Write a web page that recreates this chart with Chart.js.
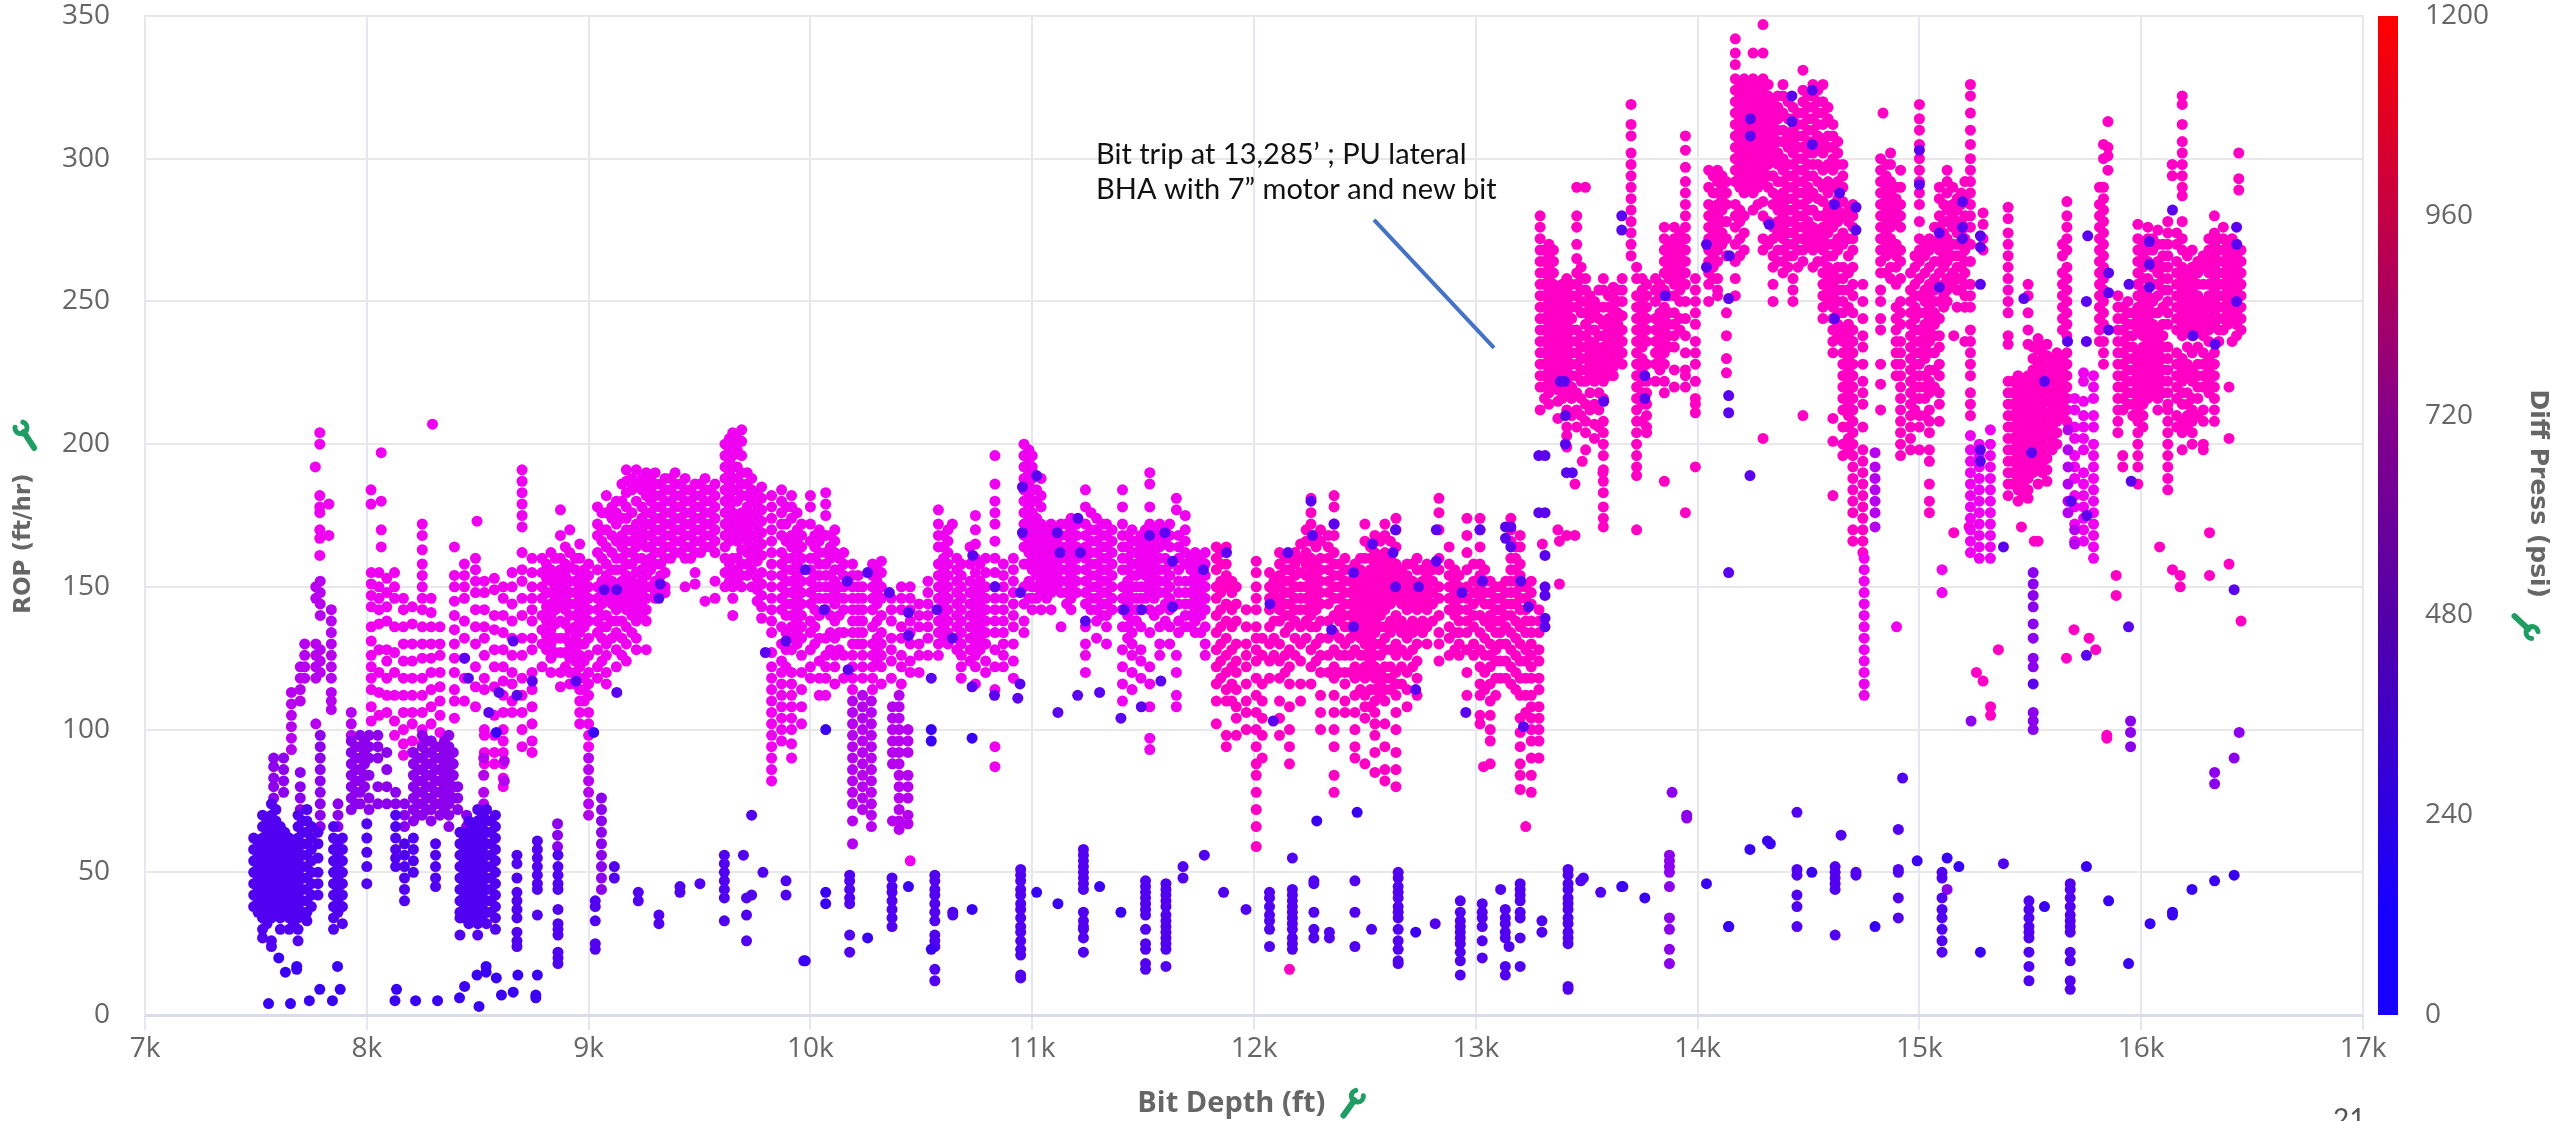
<!DOCTYPE html>
<html>
<head>
<meta charset="utf-8">
<title>ROP vs Bit Depth</title>
<script src="https://cdn.jsdelivr.net/npm/chart.js@4/dist/chart.umd.min.js"></script>
<style>
  html, body { margin: 0; padding: 0; background: #fff; overflow: hidden; }
  #chart-wrap { position: relative; width: 2552px; height: 1121px; }
</style>
</head>
<body>
<div id="chart-wrap"><canvas id="rop-chart"></canvas></div>
<script>
// Axis ticks
const depthTicks = [7000, 8000, 9000, 10000, 11000, 12000, 13000, 14000, 15000, 16000, 17000];
const ropTicks = [0, 50, 100, 150, 200, 250, 300, 350];
const diffTicks = [0, 240, 480, 720, 960, 1200];

// Colour bar stops: psi and colour
const barPsi = [0, 130, 240, 480, 720, 960, 1200];
const barColors = ['#1800ff', '#1800ff', '#2c00e4', '#5400a8', '#86008a', '#c40044', '#ff0000'];

// Each row is one vertical strand of readings: [bit depth, rop, rop, ...]
const bluePoints = [
  [7557,4],[7656,4],[7741,5],[7788,9],[7845,5],[7880,9],[7603,20],[7633,15],[7684,17,16],[7868,17],[8134,9],[8127,5],
  [8220,5],[8319,5],[8418,6],[8441,10,125],[8497,14],[8506,3],[8538,17,15],[8584,13,99],[8607,7],[8660,8,131],[8681,14],[8762,7,6],[8769,14],
  [8458,118],[8550,106],[8596,113],[8677,112],[8746,117],[8943,117],[9023,99],[9127,113,149],[9070,149],[9317,146],[9323,151],[9797,127],[9890,131],
  [9977,19,156],[10062,142],[10166,152],[10258,155,27],[10356,148],[10442,141,133,45],[10570,142],[10732,161],[10832,150],[10947,148],[11020,189,43],
  [10956,185,169],[11206,174],[11113,169],[11217,162],[11125,162],[11529,168],[11598,169],[11633,159,143],[11772,156],[11876,162],[12072,144],[12153,162],
  [12257,180],[12264,168],[12361,172],[12449,155,136],[12534,165],[12638,150,170],[12627,162],[12742,150],[12822,170,159],[12938,148],[13019,170],
  [13158,171,164],[13030,152],[13203,152],[13312,161,150,147,139,176,196,136],[13238,143],[12350,135],[11240,138],[11494,142],[11414,142],[13435,190],[13400,222],
  [10640,132],[10545,118,100,96,23],[10729,115,97,37],[10830,112],[10945,116],[10935,111],[10069,100,43,39],[10170,121],[11116,106,39],[11205,112],[11304,113,45],
  [11400,104,36],[11492,108],[11580,117],[12087,103],[12283,68],[12465,71],[12955,106],[13215,101],[12729,114,29],
  [13134,171,167],[13658,280,275,45],[13381,222],[13404,210,200],[13409,190],[13284,196,176],[13577,215],[13762,224,216,41],[13854,252],[14040,270,262,46],
  [14143,266],[14140,251,217,211,155,31],[14238,314,308],[14236,189,58],[14425,322,313],[14517,324,305],[14323,277],[14617,284,244],[14640,288],[14714,283,275],
  [15000,303,291],[15090,255,274],[15194,285,276,272],[15275,273,269,256,198,194,22],[15471,251],[15564,222,38],[15506,197],[15379,164],[15668,236],[15753,236,250,126,52],
  [15853,260,253,240,40],[15945,256],[15955,187],[16037,271,263,255],[16141,282],[16234,238],[16333,235],[16430,270,250,276],[15759,273],[15684,180],[15755,175],
  [15513,116],[15943,136,18],[16419,149,49],[16040,32],[16141,35,36],[16229,44],[16331,47],[14140,31],[14328,60],[14315,61],[14515,50],[14800,31],[14990,54],[15125,55],[15178,52]
];
const indigoPoints = [
  [7490,62,58,54,50,46,42,38],[7530,70,66,62,58,54,50,46,42,38,34,30,27],[7570,74,70,66,62,58,54,50,46,42,38,34,26,24],[7610,66,62,58,54,50,46,42,38,34,30],
  [7650,62,58,54,50,46,42,38,34,30],[7690,70,66,62,58,54,50,46,42,38,34,30,26],[7730,72,68,64,60,56,52,48,44,40,36,33],[7780,64,60,55,50,46,42],
  [7850,66,62,58,54,50,46,42,38,34,30],[7890,62,58,54,50,46,42,38,32],[8000,67,62,57,52,46],[8130,70,66,62,58,55,52],[8170,60,56,52,48,44,40],[8210,62,58,54,50],[8310,60,56,52,48,45],
  [8420,64,60,56,52,48,44,40,36,34,28],[8460,68,64,60,56,52,48,44,40,36,32],[8500,72,68,64,60,56,52,48,44,40,36,32,28],[8540,72,68,64,60,56,52,48,44,40,36,32],[8580,70,66,62,58,54,50,46,42,38,34,30],
  [8677,56,53,48,43,40,37,34,29,26,24],[8769,61,58,55,52,49,46,44,35],[8862,56,52,49,46,44,37,32,30,28,22,20,18],[9030,40,38,33,25,23],[9116,52,48],[9224,43,40],[9317,35,32],[9412,45,43],[9502,46],
  [9612,56,53,50,47,44,41,33],[9698,56],[9712,41,35,26],[9735,42,70],[9786,50],[9890,47,42],[9970,19],
  [10177,49,47,44,41,39,28,22],[10368,48,45,43,40,37,34,31],[10561,49,47,44,42,39,36,33,28,26,24,16,12],[10642,36,35],[10948,51,49,47,44,42,39,37,34,31,29,26,23,21,14,13],
  [11231,58,56,54,52,50,48,46,44,36,33,31,30,27,22],[11511,47,45,43,41,39,37,35,30,25,23,18,16],[11603,46,44,42,40,38,35,33,31,29,27,25,23,17],[11680,52,48],[11776,56],[11863,43],[11964,37],
  [12070,43,41,38,35,33,30,24],[12173,55,44,42,40,38,36,34,32,30,27,25,23],[12270,47,46,36,30,27],[12340,29,27],[12455,47,36,24],[12530,30],[12650,50,48,45,43,41,38,36,34,30,26,23,19,18],[12817,32],
  [12930,40,36,33,31,29,27,25,22,19,14],[13029,39,36,34,31,26,20],[13133,37,34,32,29,27,17,14],[13112,44],[13200,46,44,42,40,36,34,27,17],[13150,24],[13298,33,29],
  [13416,51,49,46,44,41,39,37,34,32,29,27,25,10,9],[13485,48],[13473,47],[13563,43],[13663,45],[14448,51,49,42,38,31,71],[14620,52,50,48,46,44,28],[14647,63],[14714,50,49],
  [14905,65,51,50,41,34],[14924,83],[15102,50,48,41,37,34,30,26,22],[15379,53],[15494,40,37,34,31,29,27,22,17,12],[15680,46,44,41,38,35,33,31,29,22,19,12,9],
  [7510,60,56,52,48,44,40,36],[7550,68,64,60,56,52,48,44,40,36,32],[7590,72,68,64,60,56,52,48,44,40,36],[7630,64,60,56,52,48,44,40,36],[7670,60,56,52,48,44,40,36,32],[7710,68,64,60,56,52,48,44,40,36],[7750,66,62,58,54,50,46,42,38],[7870,60,56,52,48,44,40,36],
  [8440,62,58,54,50,46,42,38,34],[8480,66,62,58,54,50,46,42,38,34],[8520,70,66,62,58,54,50,46,42,38,34],[8560,68,64,60,56,52,48,44,40,36]
];
const purplePoints = [
  [7580,90,87,83,80,76],[7625,90,86,82,78],[7700,85,80,76,72],[7790,98,94,90,86,82,78,74,70,66],[7870,74,70,66],[7930,96,92,88,84,80,76,72],[7970,98,94,90,86,82,78,74],
  [8010,98,94,90,84,76,72],[8050,98,94,90,80,74],[8090,92,86,80,74],[8130,78,74],[8170,74,70,66],[8210,92,88,84,80,76,72,68],[8250,98,94,90,86,82,78,74,70],[8290,96,92,88,84,80,76,72,68],
  [8330,94,90,86,82,78,74,70],[8370,98,94,90,86,82,78,74,70,66],[8410,80,76,72],[8450,70,66],[9058,76,72,68,64,60,56,52,48,44],[8860,67,63,59],[13873,56,54,52,50,45,34,30,23,18],[13885,78],[13951,70,69],
  [15125,44],[15233,103],[15952,103,99,94],[16442,99],[16419,90],[16331,85,81],[15513,155,151,147,143,137,132,125,122,106,103,100],
  [7950,94,90,86,82,78,74],[7990,96,92,88,84,80],[8230,90,86,82,78,74,70],[8270,96,92,88,84,80,76,72],[8310,94,90,86,82,78,74],[8350,96,92,88,84,80,76,72],[8390,92,88,84,80,76]
];
const violetPoints = [
  [7660,113,109,105,101,97,93],[7700,122,118,114,110],[7720,130,126,122,118],[7770,150,146,130,126,122,118,102],[7790,152,148,144,140,128,124,120],[7840,142,138,134,130,126,122,118,113,110,107],[7930,106,102,98],
  [10190,110,106,102,98,94,90,86,82,78,74,68,60],[10235,112,108,104,100,96,92,88,84,80,76,72],[10275,110,106,102,98,94,90,86,82,78,74,70,66],[10370,108,104,100,96,92,88,68],[10400,112,108,104,100,96,92,88,84,80,76,72,68,65],[10440,100,96,92,84,80,76,70,67],
  [9000,90,86,82,78,74,70],[8527,90,84,78,74,70],[8620,89,82],[14800,197,192,188,184,180,176,171],[15670,205,198,192,186,180,176],[15700,170,165]
];
const magentaPoints = [
  [7788,204,200,182,178,176,170,167,161],[7768,192],[7829,179,168],[8019,184,179],[8065,197,180,170,164],[8296,207],[8497,173],[8395,164],
  [8020,155,151,147,143,136,131,126,122,118,114,108,103],[8055,155,150,146,142,137,128,120,113,105],[8090,153,148,143,138,128,124,118,112,106],[8125,155,150,146,136,127,120,112,103,98],
  [8165,146,142,136,130,124,118,112,106,100,95,91],[8205,143,137,130,124,118,112,106,102,96,92],[8250,172,168,163,158,154,150,146,142,136,130,125,118,112,106,100,95],[8290,146,141,136,130,125,120,114,108,102,96,92],
  [8330,136,130,126,120,115,110,105,99],[8395,154,150,145,140,135,130,125,120,114,110,104],[8440,158,154,150,146,138,132,125,118,110],[8490,160,156,152,148,142,136,130,122,115,108],
  [8530,152,148,142,136,132,126,118,114,100,98,92,88],[8575,153,149,140,135,128,122,115,105,98,92,88],[8615,150,146,140,134,128,122,117,112,106,100,96,92,88,83,80],[8655,155,150,144,138,132,126,120,116,110,106],
  [8700,191,187,183,179,175,171,162,156,152,146,140,132,126,118,112,106,100,94],[8745,160,155,150,146,142,138,132,128,120,114,108,102,96,92],[8790,160,155,150,146,140,135,130,122],[8830,162,156,152,148,144,140,135,130,125,120],
  [8873,177,168,160,156,152,148,144,138,132,127,120,115],[8915,170,162,157,152,148,144,140,135,130,125,120,116],[8960,165,160,155,150,146,142,138,134,130,126,122,118,114,110,106,102],[9000,158,154,150,146,142,138,132,126,120,116,112,106,102,98,94],
  [9040,178,172,168,162,156,150,146,142,138,134,128,122,118],[9080,182,176,170,164,158,154,150,146,140,136,130,126,120,116],[9125,180,176,172,166,160,156,150,146,142,138,134,128,122],[9170,191,187,183,178,174,170,166,162,158,154,150,146,142,136,130,124],
  [9215,191,186,180,172,168,164,160,155,150,146,142,138,132,128],[9260,190,186,182,176,172,168,164,158,154,150,146,142,138,128],[9300,190,186,182,178,174,170,166,162,158,152,148,146],[9345,188,184,180,176,172,168,164,160,155,150,148],
  [9390,190,186,182,178,174,170,166,162],[9435,188,184,180,176,172,168,164,160,150],[9480,186,182,178,174,170,166,162,155,151],[9525,188,184,180,176,172,168,164,145],[9570,186,182,178,174,170,166,162,152,146],
  [9615,200,196,192,188,184,180,176,172,168,164,160,155,150],[9650,204,200,196,192,188,184,180,176,172,168,160,155,150,146,140],[9690,205,201,196,190,186,182,176,172,168,163,158,154,150],[9735,188,184,180,176,172,168,164,160,156,150],
  [9780,185,181,177,173,169,165,161,155,151,147,143,139],[9825,182,178,174,170,166,162,158,154,150,146,142,138,134,127,122,118,114,110,106,102,98,94,90,86,82],[9870,184,180,176,172,168,162,158,154,150,146,142,136,130,124,120,116,112,108,104,100,96],
  [9915,182,178,174,168,164,160,156,152,148,144,140,136,132,128,120,116,112,108,104,100,95,90],[9960,172,168,164,160,156,152,148,144,140,136,132,126,120,114,108,102],[10000,182,178,172,166,160,156,152,148,144,138,134,128,122,118],
  [10040,170,166,162,158,154,150,146,140,132,124,118,112],[10069,183,179,175,168,162,158,154,150,146,142,132,126,122,118,112],[10110,170,166,162,156,152,148,144,138,132,126,122,116],[10150,162,158,154,150,146,142,134,126,118],
  [10190,158,154,150,146,142,138,134,130,126,122,118,114],[10235,150,146,142,138,134,130,126,122,118],[10280,158,154,150,146,142,136,130,126,122,118,114],[10320,159,155,150,146,140,134,130,126,122,116],[10365,146,142,138,132,128,124,118],
  [10410,150,146,142,136,132,126,122,116],[10450,150,146,142,138,134,130,124,120,54],[10490,144,140,136,130,126,120],[10530,152,148,144,140,136,132,126],[10577,177,172,168,164,158,154,150,146,142,138,134,130,126],
  [10620,170,166,162,158,154,150,146,142,138,134,130],[10640,172],[10680,158,154,150,146,142,138,134,130,126,122,118],[10744,175,170,165,160,155,150,146,142,138,134,130,126,122,116],[10790,160,155,150,146,142,138,134,130,124,120],
  [10832,196,186,180,176,172,166,160,155,150,146,142,138,134,128,122,114,94,87],[10870,158,154,150,146,142,138,134,130,126,122],[10915,160,156,152,148,144,140,136,130,124,118],[10963,200,196,192,188,184,180,176,172,168,164,158,150,144,138,134],
  [11000,196,192,188,184,180,176,172,168,164,160,156,150,146,142],[11040,188,182,178,172,168,164,160,156,152,148,142],[11085,172,168,164,160,156,152,148,142],[11130,172,168,164,160,156,152,148,136],[11175,174,170,166,162,158,154,150,146,142],
  [11240,184,178,172,168,164,160,156,152,148,144,136,130,126,120],[11290,174,170,166,162,158,154,150,146,142,138,132],[11335,172,168,164,160,156,152,148,144,140,136,130],[11407,184,178,172,168,164,160,156,150,146,142,136,128,122,116,110],
  [11450,170,166,162,158,154,150,146,142,138,134,130,126,120,114],[11490,168,164,160,156,150,146,142,136,128,124,118],[11530,190,186,178,172,168,164,160,156,152,148,142,134,122,116,108,97,93],[11575,172,168,164,160,156,152,148,142,136,130,126],
  [11620,172,168,164,158,154,150,146,142,136,130],[11650,181,177,126,120,112,108],[11690,175,170,166,162,158,152,148,144,140,136],[11735,162,158,154,150,146,142,138,134],[11780,162,158,154,150,146,142,136,130,126],
  [14751,160,156,152,148,144,140,136,132,128,124,120,116,112],[14897,136],[15230,203,198,194,190,186,182,178,174,170,166,162],[15270,200,196,192,188,184,180,176,172,168,164,160],[15320,205,200,196,192,188,184,180,176,172,168,164,160],
  [15700,216,212,206,202,196,192,188,182,178,172,166],[15740,225,222,215,210,206,202,198,190,186,182,178,174,170,166],[15785,224,220,216,210,206,200,196,192,188,184,180,176,172,168,164,160],[15102,156,148],
  [8810,158,153,148,143,138,133,128],[8850,160,154,150,146,142,137,132,127],[8895,164,158,154,150,146,142,137,132,127,122],[8940,160,156,152,148,144,140,136,132,128,124,120,116],[8980,156,152,148,144,140,136,130,124,118,114,110],
  [9060,176,170,166,160,152,148,144,140,136,132,124],[9105,178,174,168,162,156,152,148,144,138,132],[9150,186,180,174,168,164,160,156,152,148,144,138,132,126],[9195,188,184,176,170,166,162,158,152,148,144,140,134],[9240,188,184,178,174,170,166,160,156,152,148,144,140],
  [9280,188,184,180,176,172,168,164,160,156,150],[9325,186,182,178,174,170,166,162,158,154,150],[9370,188,184,180,176,172,168,164,160],[9415,186,182,178,174,170,166,162],[9460,184,180,176,172,168,164,160],[9505,186,182,178,174,170,166,162],[9550,184,180,176,172,168,164],
  [9635,202,198,194,190,186,182,178,174,170,166,158,152],[9670,202,198,192,188,184,180,174,170,166,160,156,152],[9715,190,186,182,178,174,170,166,162,158,154],[9760,183,179,175,171,167,163,159,153,149,145],[9890,178,172,166,160,156,152,148,144,140,134,128,122],[9940,176,170,166,162,158,154,150,146,142,138,134,130],
  [10020,168,164,160,154,150,146,142,136,130],[10090,168,164,160,154,150,146,140,134,128],[10130,160,156,150,146,140,134,128],[10215,154,150,146,142,138,134,130],[10300,156,152,148,144,138,132,128,124],[10600,168,164,160,156,152,148,144,140,136,132],[10660,160,156,152,148,144,140,136,132,128],
  [10720,164,158,152,148,144,140,136,132,128,124],[10765,158,152,148,144,140,136,132,128],[10985,198,194,190,186,182,178,174,170,166,162,158,152,146],[11020,184,180,174,170,166,162,158,154,150,146],[11065,170,166,162,158,154,150,146],[11110,170,166,162,158,154,150],[11155,172,168,164,160,156,152,148,144],
  [11200,172,168,164,160,156,152,148],[11265,176,170,166,162,158,154,150,146,142],[11315,172,168,164,160,156,152,148,144,140],[11360,170,166,162,158,154,150,146,142],[11430,168,164,160,156,152,148,144,140,136,132],[11470,166,162,158,154,150,146,142,138],[11510,170,166,162,158,154,150,146],
  [11550,170,166,162,158,154,150,146,140],[11600,170,166,160,156,152,148,144,138],[11660,168,164,160,156,152,148,144,138,134],[11715,160,156,152,148,144,140,136],[11760,160,156,152,148,144,140,134]
];
const hotPinkPoints = [
  [11830,164,160,156,150,146,140,134,128,122,116,110,102],[11875,164,158,154,150,144,138,132,126,120,114,110,98,94],[11920,150,144,138,130,124,120,114,108,104,98],[11965,142,136,130,126,122,116,110,106,100],
  [12010,159,155,150,146,142,136,132,128,124,118,112,106,100,94,88,84,78,72,66,59],[12037,132,126,116,110,104,98,90],[12070,155,150,146,142,136,130,124,118],[12115,162,158,154,150,146,142,138,130,124,118,110,104,98],
  [12160,160,156,152,148,144,140,136,128,122,116,108,100,94,88,16],[12210,165,160,155,150,146,142,136,130,124,116,110],[12257,181,176,172,166,160,156,152,148,144,140,136,128,122,116],[12300,170,166,160,156,152,148,144,138,132,126,120,112,106,100],
  [12361,182,178,172,168,162,158,154,150,146,140,134,128,122,118,112,106,100,94,84,78],[12410,160,156,152,148,144,140,136,130,126,120,116,110,106],[12455,158,154,150,146,142,138,134,128,122,118,112,106,100,94,90],
  [12500,172,166,160,154,150,146,142,138,134,130,126,122,118,112,108,104,88],[12545,168,162,158,154,150,146,142,138,134,130,126,122,118,114,110,106,102,98,92,85],[12590,172,168,162,158,154,150,146,142,136,132,128,122,118,114,110,102,94,86,82],
  [12640,174,170,164,158,154,150,146,140,136,130,126,120,116,112,106,100,92,86,80],[12690,158,154,150,146,142,136,132,126,120,114,108],[12735,160,156,150,146,142,136,130,124,118,112],[12780,158,154,150,146,142,136,130],
  [12834,181,176,170,160,156,150,146,140,134,130,124],[12880,164,158,154,150,146,142,136,132,126],[12925,154,150,146,142,138,134,130,126],[12960,174,168,162,156,150,146,142,138,134,128,120,112],
  [13019,174,170,164,158,154,150,146,140,134,128,122,116,112,105,102],[13065,152,148,144,140,136,130,126,122,116,110,105,100,96,88],[13110,150,146,142,138,134,130,124,118],[13158,174,170,166,160,156,152,148,144,140,134,128,122,116],
  [13200,168,164,158,154,150,146,142,136,130,124,118,112,104,99,94,88,84,79],[13250,152,148,144,138,134,130,126,122,118,112,108,104,100,96,90,84,78],[13285,142,138,134,128,124,118,114,108,104,100,96,90],[13225,66],[13035,87],
  [13300,165],[13377,166,151],[13447,168,186],[13480,194],[13573,190],[13494,290],
  [13290,280,276,272,268,264,260,256,252,248,244,240,236,232,228,224,220,212],[13330,270,266,262,258,254,250,246,242,238,234,230,226,222,218,214],[13370,255,251,247,243,239,235,231,227,223,219,215,209,170],[13410,258,254,250,246,242,238,234,230,226,222,218,212,206,203,199,168],
  [13455,290,280,276,270,265,260,256,252,248,240,236,232,228,224,218,212,206],[13495,258,254,250,246,242,238,234,230,226,222,214,208,204,198],[13535,250,246,240,235,230,226,222,214,207,202],[13575,258,254,248,242,238,234,230,226,222,216,208,204,200,196,191,187,183,178,174,171],
  [13620,255,251,247,243,239,235,231,227,224],[13660,258,254,250,245,240,236,232,228],[13700,319,312,308,302,298,294,290,286,282,278,274,270,266],[13725,262,258,252,248,244,240,236,232,228,224,220,216,212,208,204,200,196,192,189,170],
  [13770,256,252,248,244,240,236,228,222,218,214,210,206,204],[13810,258,254,250,244,240,236,232,228,222],[13850,276,272,268,264,260,254,248,244,240,236,232,228,222,218,187],[13895,276,272,268,264,260,256,252,246,242,238,234,226,220],
  [13945,308,303,297,292,288,284,280,276,272,268,264,260,256,250,244,238,232,226,224,220,176],[13990,258,254,250,246,242,236,232,228,222,216,214,211,192],[14050,296,290,284,280,276,272,268,264,260,256,250],[14090,296,292,288,284,280,276,272,268,264,258,254,252],
  [14130,292,288,284,278,272,266,246,238,230,225],[14170,342,337,333,328,324,320,316,312,308,304,300,296,292,284,280,276,270,264,258,252],[14210,328,324,320,316,312,308,304,300,296,292,288,280,274,268],[14250,337,328,324,320,316,312,308,304,300,296,292,288,282],
  [14295,347,337,328,324,320,316,312,308,304,300,296,292,285,280,272,268,202],[14340,320,316,312,308,304,300,294,288,284,276,272,266,262,256,250],[14385,326,322,316,310,306,300,296,292,288,284,280,276,272,268,264,260],[14430,318,314,310,306,302,298,294,290,286,282,278,274,270,266,258,254,250],
  [14475,331,324,320,316,312,308,304,300,296,292,288,284,280,276,272,268,264,210],[14520,326,322,318,314,310,306,302,298,294,288,282,276,272,268,262],[14565,326,320,316,312,306,302,296,290,285,280,276,272,268,264,260,256,252,248,244],
  [14610,312,308,304,300,296,290,284,280,276,270,266,260,256,252,248,244,240,236,232,209,201,182],[14655,298,294,290,285,280,274,270,262,258,254,250,246,240,236,232,228,224,220,216,212,206,200,196],[14700,284,280,276,272,268,262,256,252,246,240,236,232,228,224,220,216,212,208,204,200,196,192,188,184,180,176,170,166],
  [14745,256,250,244,238,234,228,222,218,214,206,198,194,190,186,182,178,174,170,166,162],[14825,300,296,292,288,284,280,276,272,268,264,260,254,250,244,240,228,221,212],[14836,316],[14870,302,298,292,288,284,280,276,272,268,262,258],
  [14915,296,290,284,280,276,268,264,258,250,246,242,236,232,228,224,220,216,212,208,204,200,196],[14960,260,254,250,246,242,238,234,230,226,222,218,214,210,206,202,198],[15000,319,314,310,305,300,296,292,288,284,278,272,268,264,258,252,246,240,236,232,228,224,220,216,210,206,198],
  [15045,272,268,262,256,252,248,244,240,236,232,226,222,218,212,208,204,198,194,186,180,176],[15090,290,286,280,276,272,268,264,260,250,244,238,234,228,224,218,214,208],[15125,296,292,288,282,278,272,268,264,258,254,250],[15155,169,238],[15170,286,282,278,274,270,266,262,258,254,248],
  [15205,292,286,280,276,272,268,264,260,256,252,248,236],[15230,326,322,316,310,305,300,296,292,288,284,280,276,270,264,256,252,248,240,236,232,228,224,218,214,210],[15400,283,279,274,270,266,262,258,254,250,246,238,235,222,218,214,210,206,202,198,194,190,186,182],
  [15445,224,220,216,212,208,204,200,196,192,188,184,180],[15490,256,252,246,240,235,224,220,216,212,208,204,200,196,192,188,184,181],[15535,237,233,228,224,220,216,212,208,204,200,196,192,186,166],[15575,235,231,227,223,219,215,211,207,203,199,195,191,187],
  [15620,232,228,224,220,216,212,208,204,200],[15665,285,280,276,272,268,262,258,254,250,246,242,238,232,228,224,220,216,212,208],[15830,305,300,290,286,282,278,274,270,266,262,258,254,250,246,242,236,232,228],[15850,313,304,301,296],
  [15895,252,248,244,240,236,232,228,224,220,216,212,208,204],[15917,196,192],[15940,250,246,242,238,234,230,226,222,218,214],[15985,277,272,268,264,260,256,252,248,244,240,232,228,224,220,216,212,208,204,200,196,192,186],
  [16030,276,272,268,264,258,252,248,244,240,236,232,228,224,220,216],[16083,164],[16075,275,270,264,260,256,252,246,240,236,232,228,224,220,216,212],[16120,278,274,270,266,262,258,254,250,246,242,234,230,226,222,218,214,212,208,204,200,196,192,188,184],[16140,298,294],
  [16185,322,319,312,306,302,298,294,290,287,278,272,268,262,258,254,250,246,242,238,230,226,222,218,214,208,204,198],[16230,268,262,258,254,250,246,242,238,232,226,222,216,212,208,204,200],[16280,266,262,256,250,246,242,238,232,228,224,220,212,208,200,198],
  [16308,169,154],[16330,280,274,270,266,262,258,254,250,246,242,232,228,224,220,216,212,208],[16370,276,272,268,264,260,256,252,248,244,240],[16396,220,202,158],[16410,272,268,264,260,256,252,248,244,236],[16450,268,264,260,256,252,248,244,240,138],
  [16440,302,293,289],[15356,128],[15257,120],[15287,117,281,277,272,268],[15321,108,105],[15663,125],[15795,128],[15697,135],[15765,132],[15887,154,147],[16141,156],[16176,154,150],[15845,97,98],[15224,171],[15460,171],[15518,166],
  [11850,162,158,152,148,142,136,130,124,118],[11900,152,148,142,136,128,122,116,110],[12090,152,148,144,138,132,126],[12140,160,156,152,148,144,140,134,126,120],[12185,162,158,154,150,146,142,138,132,126],[12235,170,166,162,158,154,150,146,142,138,132],[12280,168,164,158,154,150,146,142,136,130,124],
  [12335,168,164,160,156,152,148,144,138,132,126,120],[12385,158,154,150,146,142,138,132,126,120],[12435,156,152,148,144,140,136,132,126,120],[12480,160,156,152,148,144,140,136,132,126,120,114],[12525,164,160,156,152,148,144,140,136,132,128,124,120,114,108],[12570,166,160,156,152,148,144,140,136,130,126,120,116,112],
  [12615,166,160,156,152,148,144,138,134,128,122,118,114],[12665,156,152,148,144,138,134,128,122,116],[12715,158,152,148,144,138,134,128,122],[12760,156,152,148,144,138,134],[12805,156,152,148,144,138],[12905,156,152,148,144,140,134,128],[12990,158,152,148,144,140,136,130,126],[13040,156,152,148,144,138,132,126,120,114],
  [13090,150,146,142,138,134,128,124,118,112],[13135,152,148,144,140,136,130,124,118],[13180,164,160,156,152,148,144,138,132,126,120,114],[13225,150,146,142,138,134,128,124,118,112,106],[13310,268,264,260,256,252,248,244,240,236,232,228,224,220,216],[13350,268,264,260,256,252,248,244,240,236,232,228,224,220],
  [13390,256,252,248,244,240,236,232,228,224,220,216],[13432,256,252,248,244,240,236,232,228,224,220,216,210],[13475,262,258,254,250,246,238,234,230,226,222,216,210],[13515,252,248,244,240,236,232,228,224,218,212],[13555,254,248,244,238,232,228,224,218,212,206],[13598,252,248,244,240,236,232,228,224],[13640,254,250,246,242,238,234,230],
  [13750,258,254,250,246,242,238,234,230,226,222,218,214,208],[13830,256,252,246,242,238,234,230,226],[13870,270,266,262,258,252,246,242,238,234],[13920,274,270,266,262,258,254,250,244,240],[14070,294,288,282,278,274,270,266,262,258],[14110,294,290,286,282,278,274,270],[14190,326,322,318,314,310,306,302,298,294,290,282,278,272,266],
  [14230,326,322,318,314,310,306,302,298,294,290],[14272,326,322,318,314,310,306,302,298,294,290,284],[14318,326,322,318,314,310,306,302,298,294,290,278,270],[14362,322,318,314,310,306,302,298,292,286,282,278,274,268,264],[14408,320,314,308,304,298,294,290,286,282,278,274,270,266,262],[14452,316,312,308,304,300,296,292,288,284,280,276,272,268,262],
  [14498,322,318,314,310,306,302,298,294,290,286,282,278,274,270],[14542,324,320,316,312,308,304,298,292,286,280,274,270,264],[14588,318,314,308,304,298,292,288,282,278,274,270,266,262,258,254,250],[14632,306,302,298,292,286,282,278,272,268,262,258,254,250,246,242,238],[14680,282,278,272,266,260,254,248,242,238,234,230,226,222,218,214,210,206,202,198],
  [14850,298,294,290,286,282,278,274,270,266,260],[14895,290,286,282,278,270,266,262,256,248,244,240,236,232,228,224],[14980,266,262,256,252,248,244,240,236,232,228,224,220,216,212],[15025,270,266,260,254,250,246,242,238,234,230,224,220,216,210],[15068,276,270,264,258,254,250,246,242,238,232,226,220],[15110,284,278,274,270,266,262,256,252,248],
  [15150,290,284,280,276,270,266,260,256],[15188,288,284,278,274,270,266,262,258,254],[15420,222,218,214,210,206,202,198,194,190,186],[15468,222,218,214,210,206,202,198,194,190,186,182],[15512,234,230,226,222,218,214,210,206,202,198,194,190],[15555,234,230,226,222,218,214,210,206,202,198,194,190],[15598,230,226,222,218,214,210,206,202,198],
  [15645,270,266,260,256,252,248,244,240,230,226,222,218,214,210],[15812,290,284,280,276,272,268,264,260,256,252,248,244,240,236],[15918,248,244,240,236,232,228,224,220,216,212],[15962,246,242,238,234,230,226,222,218,214,210],[16008,270,266,262,258,254,250,246,242,238,234,230,226,222,218,214,210,206],[16052,272,268,262,256,250,246,242,238,234,230,226,222,218],
  [16098,270,266,262,258,254,248,242,238,234,230,226,222,218],[16160,274,270,264,260,256,252,248,244,240,232,228,224,220,216,210,206],[16208,266,260,256,252,248,244,240,234,228,224,218,214,210,206],[16255,264,260,256,252,248,244,240,234,228,224,220,216,210],[16305,272,268,264,260,256,252,248,244,240,236,230,226,222,218],[16350,272,268,264,260,256,252,248,244,240,236],[16390,270,266,262,258,254,250,246,242],[16430,270,266,262,258,254,250,246,242,238]
];

// Annotation leader in data units
const leaderDepth = [12541, 13082];
const leaderRop = [278.6, 233.7];

const noteLines = ['Bit trip at 13,285’ ; PU lateral', 'BHA with 7” motor and new bit'];

// flatten strand rows into chart points
function toPoints(rows) {
  const pts = [];
  rows.forEach((row) => {
    row.slice(1).forEach((rop) => pts.push({ x: row[0], y: rop }));
  });
  return pts;
}

function dotSet(label, rows, color) {
  return {
    label,
    data: toPoints(rows),
    backgroundColor: color,
    borderWidth: 0,
    pointRadius: 5.5,
    pointHoverRadius: 5.5,
  };
}

function drawWrench(ctx, x, y, angle) {
  ctx.save();
  ctx.translate(x, y);
  ctx.rotate(angle);
  ctx.strokeStyle = '#1f9d63';
  ctx.lineCap = 'round';
  ctx.lineWidth = 6;
  ctx.beginPath();
  ctx.moveTo(-13, 0);
  ctx.lineTo(6, 0);
  ctx.stroke();
  ctx.lineWidth = 5;
  ctx.beginPath();
  ctx.arc(11, 0, 6, 0.9, Math.PI * 2 - 0.9, false);
  ctx.stroke();
  ctx.restore();
}

// colour bar, note text, wrenches and the stray page number
const extrasPlugin = {
  id: 'extras',
  afterDraw(chart) {
    const { ctx } = chart;
    const diff = chart.scales.diff;
    const top = diff.getPixelForValue(1200);
    const bottom = diff.getPixelForValue(0);
    const grad = ctx.createLinearGradient(0, bottom, 0, top);
    barPsi.forEach((psi, i) => grad.addColorStop(psi / 1200, barColors[i]));
    ctx.save();
    ctx.fillStyle = grad;
    ctx.fillRect(2378, top, 20, bottom - top);

    ctx.fillStyle = '#111';
    ctx.font = '29px Lato';
    ctx.textAlign = 'left';
    ctx.textBaseline = 'alphabetic';
    noteLines.forEach((line, i) => ctx.fillText(line, 1096, 164 + i * 35));

    ctx.fillStyle = '#555';
    ctx.font = '28px Lato';
    ctx.fillText('21', 2333, 1129);
    ctx.restore();

    drawWrench(ctx, 27, 437, -2.15);
    drawWrench(ctx, 1351, 1105, -0.95);
    drawWrench(ctx, 2524, 625, 0.75);
  },
};

const tickFont = { family: 'Open Sans', size: 28 };

// blue readings sitting inside the pink cloud look lighter than the low strands
const blueSet = dotSet('Diff Press low', bluePoints, (c) => (c.parsed && c.parsed.y > 100 ? '#5c00f0' : '#3a00f3'));

new Chart(document.getElementById('rop-chart'), {
  type: 'scatter',
  data: {
    datasets: [
      {
        label: 'Leader',
        type: 'line',
        data: leaderDepth.map((d, i) => ({ x: d, y: leaderRop[i] })),
        borderColor: '#4472c4',
        borderWidth: 4,
        pointRadius: 0,
        fill: false,
      },
      blueSet,
      dotSet('Diff Press low-mid', indigoPoints, '#5200f0'),
      dotSet('Diff Press mid', purplePoints, '#8c00ee'),
      dotSet('Diff Press mid-high', violetPoints, '#b800f0'),
      dotSet('Diff Press high', magentaPoints, '#f000f0'),
      dotSet('Diff Press top', hotPinkPoints, '#ff00c4'),
    ],
  },
  options: {
    responsive: true,
    maintainAspectRatio: false,
    animation: false,
    layout: { padding: { top: 16 } },
    plugins: { legend: { display: false }, tooltip: { enabled: false } },
    scales: {
      x: {
        type: 'linear',
        min: 7000,
        max: 17000,
        afterBuildTicks: (scale) => { scale.ticks = depthTicks.map((value) => ({ value })); },
        afterFit: (scale) => { scale.height = 106; scale.paddingLeft = 0; scale.paddingRight = 0; },
        grid: { color: '#e5e7f0', lineWidth: 2, tickLength: 15 },
        border: { color: '#d9dce8', width: 3 },
        ticks: { color: '#666', font: tickFont, padding: 2, maxRotation: 0, callback: (v) => `${v / 1000}k` },
        title: { display: true, text: 'Bit Depth (ft)\u00a0\u00a0\u00a0\u00a0\u00a0\u00a0', color: '#666', font: { family: 'Open Sans', size: 29, weight: 'bold' }, padding: { top: 0, bottom: 0 } },
      },
      y: {
        min: 0,
        max: 350,
        afterBuildTicks: (scale) => { scale.ticks = ropTicks.map((value) => ({ value })); },
        afterFit: (scale) => { scale.width = 145; scale.paddingTop = 0; scale.paddingBottom = 0; },
        grid: { color: '#e8e8e8', lineWidth: 2, drawTicks: false },
        border: { color: '#e5e7f0', width: 2 },
        ticks: { color: '#666', font: tickFont, padding: 35, callback: (v) => String(v) },
        title: { display: true, text: 'ROP (ft/hr)\u00a0\u00a0\u00a0\u00a0\u00a0\u00a0\u00a0', color: '#666', font: { family: 'DejaVu Sans', size: 23, weight: 'bold' }, padding: { top: 10, bottom: 0 } },
      },
      diff: {
        position: 'right',
        min: 0,
        max: 1200,
        afterBuildTicks: (scale) => { scale.ticks = diffTicks.map((value) => ({ value })); },
        afterFit: (scale) => { scale.width = 189; scale.paddingTop = 0; scale.paddingBottom = 0; },
        grid: { drawOnChartArea: false, drawTicks: false },
        border: { color: '#e5e7f0', width: 2 },
        ticks: { color: '#666', font: tickFont, padding: 62, callback: (v) => String(v) },
        title: { display: true, text: 'Diff Press (psi)\u00a0\u00a0\u00a0\u00a0\u00a0', color: '#666', font: { family: 'DejaVu Sans', size: 25, weight: 'bold' }, padding: { top: 0, bottom: 0 } },
      },
    },
  },
  plugins: [extrasPlugin],
});
</script>
</body>
</html>
